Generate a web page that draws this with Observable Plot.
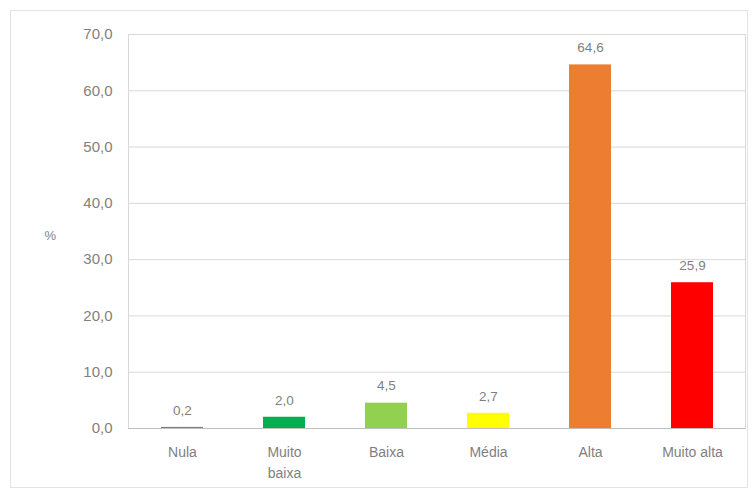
<!DOCTYPE html>
<html><head><meta charset="utf-8">
<script src="https://cdn.jsdelivr.net/npm/d3@7"></script>
<script src="https://cdn.jsdelivr.net/npm/@observablehq/plot@0.6"></script>
<style>
html,body{margin:0;padding:0;background:#fff;}
#wrap{position:relative;width:756px;height:496px;overflow:hidden;}
#card{position:absolute;left:10px;top:10px;width:738px;height:478px;border:1px solid #e3e3e3;box-sizing:border-box;pointer-events:none;}
</style>
</head><body>
<div id="wrap"><div id="card"></div></div>
<script>
const categories = ["Nula","Muito baixa","Baixa","Média","Alta","Muito alta"];
const values = [0.2, 2.0, 4.5, 2.7, 64.6, 25.9];
const colors = ["#7f7f7f","#00b050","#92d050","#ffff00","#ed7d31","#ff0000"];
const yTicks = [0,10,20,30,40,50,60,70];
const labelLines = {"Muito baixa":"Muito\nbaixa"};

const data = categories.map((c,i)=>({cat:c, v:values[i], color:colors[i]}));
const fmt = v => d3.format(".1f")(v).replace(".", ",");

const chart = Plot.plot({
  width: 756, height: 496,
  marginLeft: 128, marginRight: 11, marginTop: 34, marginBottom: 68,
  style: {fontFamily: "Liberation Sans, Arial, sans-serif", fontSize: "14px", color: "#7f7f7f", background: "transparent"},
  x: {domain: categories, paddingInner: 0.59, paddingOuter: 0.295, label: null},
  y: {domain: [0,70], ticks: yTicks, label: null},
  marks: [
    Plot.gridY(yTicks, {stroke: "#d9d9d9", strokeOpacity: 1}),
    Plot.frame({stroke: "#d9d9d9"}),
    Plot.barY(data, {x: "cat", y: "v", fill: "color"}),
    Plot.ruleY([0], {stroke: "#bfbfbf"}),
    Plot.text(data, {x: "cat", y: "v", text: d => fmt(d.v), dy: -17, fill: "#7f7f7f", fontSize: 13.5}),
    Plot.axisY(yTicks, {tickSize: 0, tickPadding: 16, tickFormat: fmt, fontSize: 15, fill: "#7f7f7f"}),
    Plot.axisX({tickSize: 0, tickPadding: 14, tickFormat: d => labelLines[d] ?? d, fontSize: 14, fill: "#7f7f7f", lineHeight: 1.5}),
    Plot.text(["%"], {frameAnchor: "left", dx: -84, dy: 4, fill: "#7f7f7f", fontSize: 13})
  ]
});
chart.style.position = "absolute";
chart.style.left = "0"; chart.style.top = "0";
document.getElementById("wrap").prepend(chart);
</script>
</body></html>
